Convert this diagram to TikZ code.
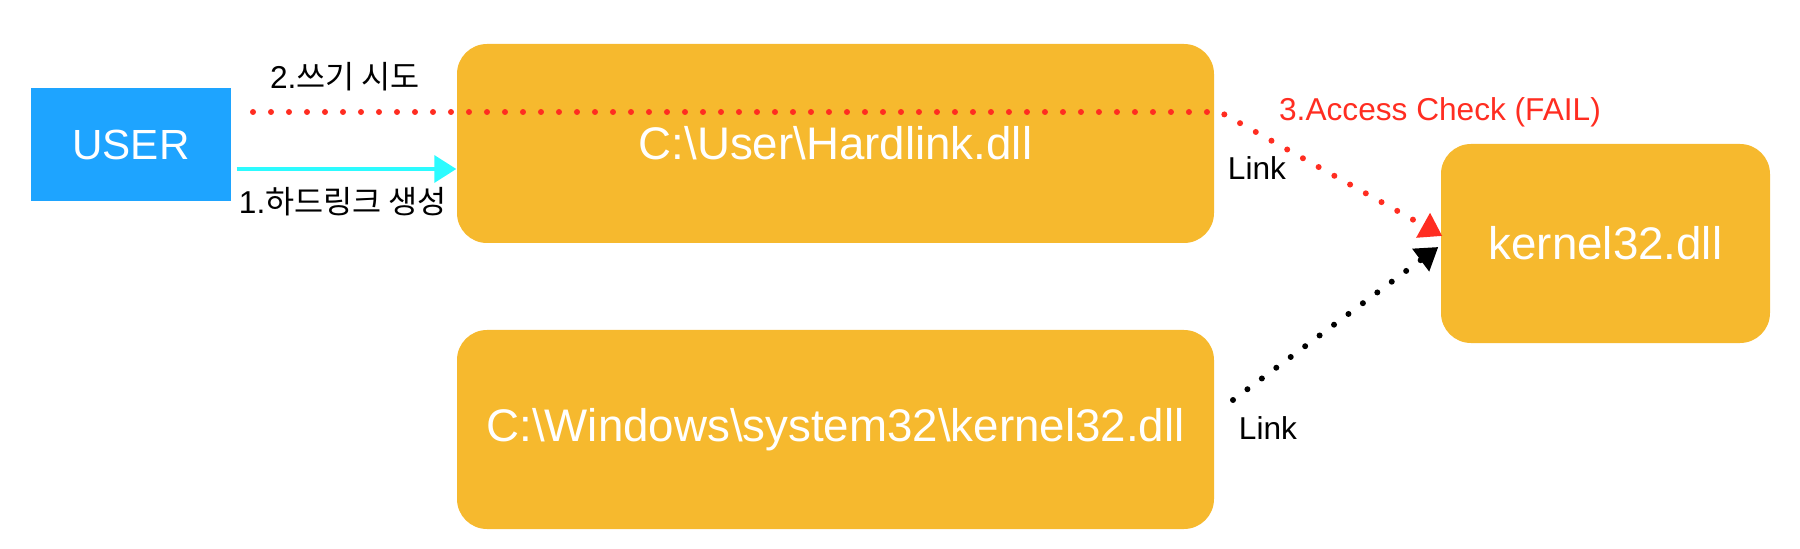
\documentclass[tikz,border=0pt]{standalone}
\usepackage{fontspec}
\setmainfont{Liberation Sans}
\newfontfamily\kr{Noto Sans CJK KR}
\usetikzlibrary{arrows.meta}

\definecolor{boxorange}{HTML}{F6B92E}
\definecolor{userblue}{HTML}{1EA4FF}
\definecolor{linkcyan}{HTML}{2CFBFF}
\definecolor{failred}{HTML}{FF2D21}

\tikzset{
  filebox/.style={fill=boxorange, rounded corners=0.3cm, text=white,
    minimum height=1.99cm, font=\fontsize{13}{15}\selectfont},
  userbox/.style={fill=userblue, text=white, minimum width=2cm,
    minimum height=1.13cm, font=\fontsize{12}{14}\selectfont},
  steplabel/.style={font=\fontsize{9}{11}\selectfont},
  dotline/.style={line width=0.06cm, dash pattern=on 0pt off 0.18cm, line cap=round},
  tip/.style={-{Triangle[length=0.22cm, width=0.27cm]}}
}

\begin{document}
\begin{tikzpicture}

\useasboundingbox (0,0) rectangle (18,5.48);

% boxes
\node [userbox] (user) at (1.31,4.035) {USER};
\node [filebox, minimum width=7.57cm] (hard) at (8.355,4.045) {C:\textbackslash User\textbackslash Hardlink.dll};
\node [filebox, minimum width=7.57cm] (win) at (8.355,1.185) {C:\textbackslash Windows\textbackslash system32\textbackslash kernel32.dll};
\node [filebox, minimum width=3.29cm] (kernel) at (16.055,3.045) {kernel32.dll};

% free ends of the dotted lines
\coordinate (wstart) at (2.53,4.36);
\coordinate (wbend) at (12.2,4.36);
\coordinate (lstart) at (12.33,1.48);

% 1. create hardlink
\draw [linkcyan, line width=0.035cm, tip] ([yshift=-0.245cm]user.east) ++(0.05,0) -- ([yshift=-0.245cm]user.east -| hard.west);
\node [steplabel] (l1) at (3.43,3.46) {1.{\kr 하드링크 생성}};

% 2. write try, 3. access check
\draw [failred, dotline, tip] (wstart) -- (wbend) -- ([shift={(0.02,0.075)}]kernel.west);
\node [steplabel] (l2) at (3.45,4.71) {2.{\kr 쓰기 시도}};
\node [steplabel, text=failred] (l3) at (14.40,4.36) {3.Access Check (FAIL)};

% links
\draw [black, dotline, tip] (lstart) -- ([shift={(-0.02,-0.035)}]kernel.west);
\node [steplabel] (link1) at (12.57,3.80) {Link};
\node [steplabel] (link2) at (12.68,1.20) {Link};

\end{tikzpicture}
\end{document}
